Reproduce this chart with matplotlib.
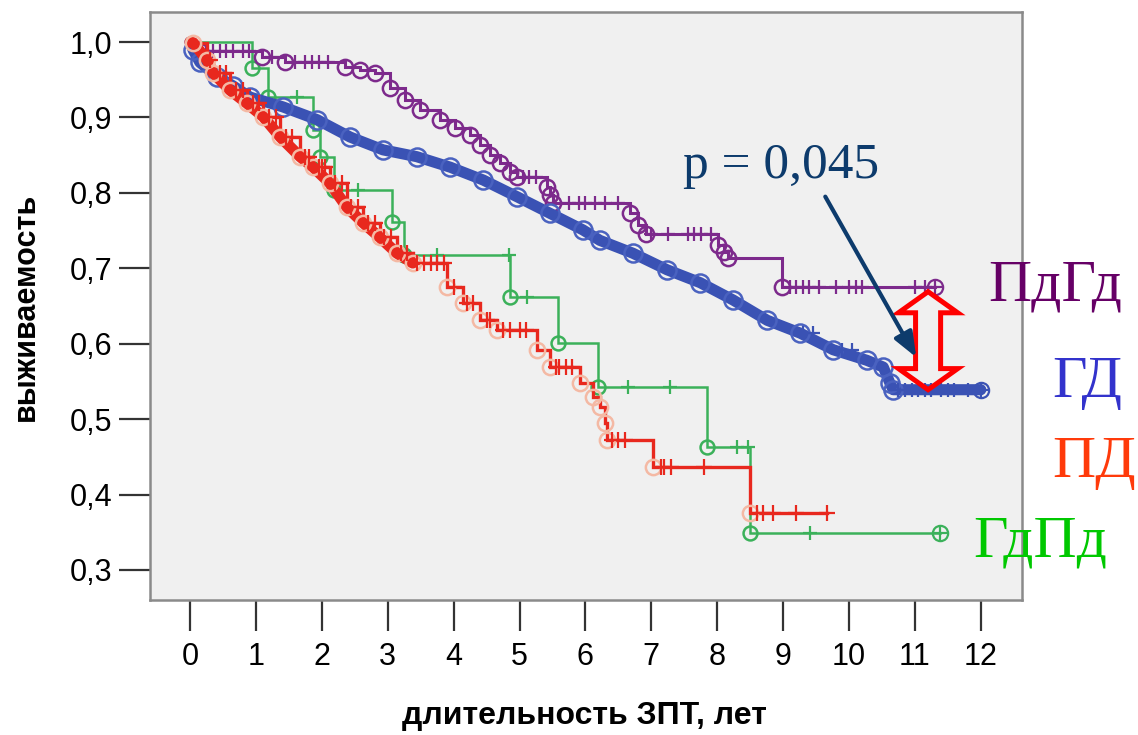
import numpy as np
import matplotlib
matplotlib.use("Agg")
import matplotlib.pyplot as plt
from matplotlib.patches import Polygon

# ---------------- data ----------------
x_ticks = [0, 1, 2, 3, 4, 5, 6, 7, 8, 9, 10, 11, 12]
y_ticks = [0.3, 0.4, 0.5, 0.6, 0.7, 0.8, 0.9, 1.0]
y_tick_labels = ["0,3", "0,4", "0,5", "0,6", "0,7", "0,8", "0,9", "1,0"]
group_names = ["ПдГд", "ГД", "ПД", "ГдПд"]

# ПдГд (purple)
pg_t = [0, 0.15, 1.10, 1.44, 2.35, 2.58, 2.81, 3.03, 3.26, 3.49, 3.79, 4.02, 4.25, 4.40,
        4.55, 4.70, 4.86, 4.96, 5.42, 5.46, 5.51, 6.68, 6.80, 6.92, 8.01, 8.10, 8.16, 8.98]
pg_s = [1.0, 0.988, 0.980, 0.974, 0.967, 0.963, 0.959, 0.939, 0.923, 0.910, 0.897, 0.886,
        0.877, 0.863, 0.850, 0.840, 0.828, 0.821, 0.808, 0.797, 0.787, 0.773, 0.757, 0.745,
        0.731, 0.722, 0.714, 0.675]
pg_end = 11.3
pg_cens = [0.25, 0.35, 0.45, 0.55, 0.65, 0.8, 0.9, 1.25, 1.6, 1.75, 1.85, 1.95, 2.1,
           5.05, 5.15, 5.25, 5.75, 5.9, 6.0, 6.15, 6.3, 6.5, 7.0, 7.25, 7.55, 7.65, 7.75,
           7.9, 9.1, 9.2, 9.3, 9.4, 9.55, 9.8, 10.0, 10.1, 10.2, 11.0, 11.15]

# ГД (blue) - large group, nearly continuous curve
gd_t = [0, 0.05, 0.15, 0.41, 0.65, 0.91, 1.41, 1.93, 2.43, 2.93, 3.44, 3.95, 4.45, 4.96,
        5.46, 5.96, 6.22, 6.72, 7.24, 7.74, 8.24, 8.76, 9.26, 9.76, 10.27, 10.52, 10.62, 10.67]
gd_s = [1.0, 0.989, 0.973, 0.954, 0.942, 0.927, 0.914, 0.897, 0.874, 0.857, 0.848, 0.834,
        0.817, 0.795, 0.773, 0.751, 0.737, 0.720, 0.698, 0.681, 0.658, 0.631, 0.614, 0.592,
        0.578, 0.569, 0.548, 0.539]
gd_end = 12.0
gd_cens = [9.3, 9.45, 9.9, 10.05, 10.75, 10.85, 10.95, 11.05, 11.15, 11.25, 11.4, 11.5,
           11.6, 11.8]

# ПД (red)
pd_t = [0, 0.05, 0.26, 0.35, 0.61, 0.86, 1.11, 1.37, 1.67, 1.87, 2.12, 2.38, 2.63, 2.88,
        3.14, 3.38, 3.90, 4.14, 4.40, 4.66, 5.27, 5.46, 5.92, 6.12, 6.22, 6.30, 6.33, 7.03, 8.50]
pd_s = [1.0, 0.999, 0.976, 0.959, 0.936, 0.919, 0.901, 0.874, 0.848, 0.834, 0.813, 0.781,
        0.760, 0.741, 0.720, 0.707, 0.675, 0.654, 0.631, 0.618, 0.592, 0.569, 0.548, 0.529,
        0.516, 0.495, 0.472, 0.437, 0.376]
pd_end = 9.67
pd_cens = [0.3, 0.45, 0.55, 0.7, 0.8, 0.95, 1.05, 1.2, 1.3, 1.45, 1.55, 1.75, 1.8, 1.95,
           2.0, 2.05, 2.2, 2.3, 2.45, 2.55, 2.7, 2.8, 2.95, 3.05, 3.2, 3.3, 3.45, 3.55, 3.65,
           3.75, 3.85, 4.0, 4.2, 4.3, 4.5, 4.55, 4.75, 4.85, 5.0, 5.1, 5.55, 5.6, 5.7, 5.8,
           6.4, 6.5, 6.6, 7.15, 7.2, 7.3, 7.8, 8.6, 8.7, 8.85, 9.2, 9.67]

# ГдПд (green)
gp_t = [0, 0.94, 1.18, 1.87, 1.97, 2.19, 3.06, 3.25, 4.86, 5.58, 6.19, 7.84, 8.50]
gp_s = [1.0, 0.966, 0.927, 0.883, 0.847, 0.804, 0.762, 0.718, 0.662, 0.601, 0.543, 0.463, 0.349]
gp_end = 11.38
gp_cens = [1.62, 2.55, 3.75, 4.84, 5.11, 6.65, 7.28, 8.30, 8.47, 9.41]

p_text = "p = 0,045"

# ---------------- styling ----------------
C_PG, C_GD, C_PD, C_GP = "#7d2a8c", "#3a52b4", "#e8281e", "#3bb15a"
L_PG, L_GD, L_PD, L_GP = "#660066", "#3333cc", "#ff3a0a", "#00c800"
NAVY = "#0d3b6c"


def surv_at(t, s, x):
    idx = np.searchsorted(np.asarray(t), np.asarray(x), side="right") - 1
    return np.asarray(s)[idx]


fig = plt.figure(figsize=(11.38, 7.35), dpi=100)
fig.patch.set_facecolor("white")
ax = fig.add_axes([150 / 1138, 135 / 735, 872 / 1138, 588 / 735])
ax.set_facecolor("#f0f0f0")

x_lo, x_hi = -0.607, 12.625
y_lo, y_hi = 0.2602, 1.0398
ax.set_xlim(x_lo, x_hi)
ax.set_ylim(y_lo, y_hi)


def draw_curve(t, s, end, cens, color, lw, zo, circ_color=None, circ_ms=9, step=True,
               cens_ms=10, end_circle=True):
    tt = list(t) + [end]
    ss = list(s) + [s[-1]]
    if step:
        ax.step(tt, ss, where="post", color=color, lw=lw, zorder=zo, solid_joinstyle="miter")
    else:
        ax.plot(tt, ss, color=color, lw=lw, zorder=zo, solid_capstyle="round")
    cc = circ_color if circ_color else color
    ax.plot(t[1:], s[1:], "o", ms=circ_ms, mfc="none", mec=cc, mew=1.8, zorder=zo + 0.1)
    cy = surv_at(t, s, cens)
    ax.plot(cens, cy, "+", ms=cens_ms, mew=1.6, color=color, zorder=zo + 0.2)
    if end_circle:
        ax.plot([end], [s[-1]], "o", ms=11, mfc="none", mec=color, mew=1.6, zorder=zo + 0.2)
        ax.plot([end], [s[-1]], "+", ms=11, mew=1.6, color=color, zorder=zo + 0.2)


draw_curve(gp_t, gp_s, gp_end, gp_cens, C_GP, 1.8, 2, circ_ms=10)
draw_curve(pg_t, pg_s, pg_end, pg_cens, C_PG, 2.2, 3, circ_ms=11)
draw_curve(gd_t, gd_s, gd_end, gd_cens, C_GD, 8, 4, circ_color="#4a62c0", circ_ms=13,
           step=False)
# red: halos of light circles on the lower part, plus a denser early band
draw_curve(pd_t, pd_s, pd_end, pd_cens, C_PD, 2.4, 5, circ_color="#f4b9a4", circ_ms=11,
           cens_ms=12, end_circle=False)
ax.plot(pd_t[:16], pd_s[:16], color=C_PD, lw=8, zorder=5, solid_capstyle="round")

# ---------------- double hollow arrow between the ends of ПдГд and ГД ----------------
xc = 11.2
top = pg_s[-1] - 0.006
bot = gd_s[-1]
hw, sw, hl = 0.45, 0.19, 0.028
verts = [(xc, top), (xc + hw, top - hl), (xc + sw, top - hl), (xc + sw, bot + hl),
         (xc + hw, bot + hl), (xc, bot), (xc - hw, bot + hl), (xc - sw, bot + hl),
         (xc - sw, top - hl), (xc - hw, top - hl)]
ax.add_patch(Polygon(verts, closed=True, fill=False, edgecolor="#ff0000", lw=3.6,
                     joinstyle="miter", zorder=8))

# p-value text and arrow
ax.text(7.48, 0.820, p_text, fontsize=37, family="Liberation Serif", color=NAVY,
        ha="left", va="baseline", zorder=9)
ax.annotate("", xy=(11.02, 0.582), xytext=(9.64, 0.795),
            arrowprops=dict(arrowstyle="-|>,head_length=0.75,head_width=0.3", lw=3.0,
                            color=NAVY, mutation_scale=20, shrinkA=0, shrinkB=0), zorder=9)

# ---------------- axes, ticks ----------------
ax.set_xticks(x_ticks)
ax.set_xticklabels([str(v) for v in x_ticks], fontsize=22, family="Liberation Sans")
ax.set_yticks(y_ticks)
ax.set_yticklabels(y_tick_labels, fontsize=22, family="Liberation Sans")
ax.tick_params(axis="both", direction="out", length=22, width=1.6, color="#333333")
ax.tick_params(axis="x", pad=8)
ax.tick_params(axis="y", pad=5)
for sp in ax.spines.values():
    sp.set_color("#8a8a8a")
    sp.set_linewidth(1.8)

fig.text(26 / 1138, 1 - 307 / 735, "выживаемость", rotation=90, ha="center", va="center",
         fontsize=22, fontweight="bold", family="Liberation Sans")
fig.text(584 / 1138, 1 - 716 / 735, "длительность ЗПТ, лет", ha="center", va="center",
         fontsize=23, fontweight="bold", family="Liberation Sans")

# group labels on the right
lab_pos = [(988, 300), (1052, 397), (1052, 477), (973, 557)]
lab_col = [L_PG, L_GD, L_PD, L_GP]
for name, (px, py), col in zip(group_names, lab_pos, lab_col):
    fig.text(px / 1138, 1 - py / 735, name, fontsize=43, family="Liberation Serif",
             color=col, ha="left", va="baseline")

fig.savefig("out.png", dpi=100)
